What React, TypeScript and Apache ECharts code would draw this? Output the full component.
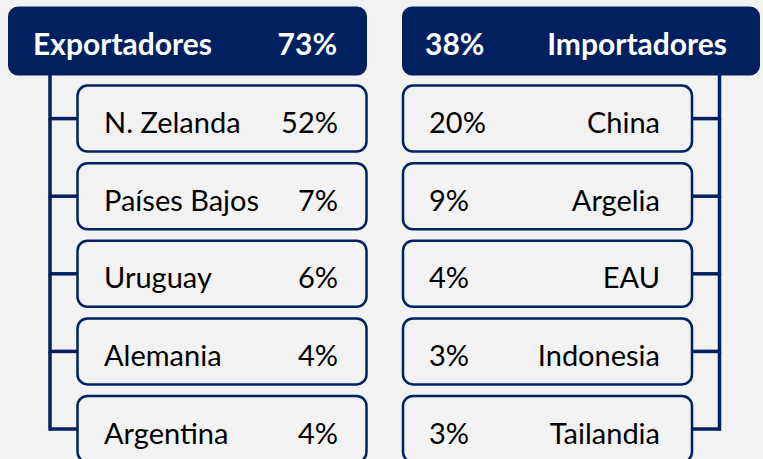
import React, { useEffect, useRef } from 'react';
import * as echarts from 'echarts';

const groupTitles = ['Exportadores', 'Importadores'];
const groupTotals = [73, 38];
const exporters = ['N. Zelanda', 'Países Bajos', 'Uruguay', 'Alemania', 'Argentina'];
const exporterShares = [52, 7, 6, 4, 4];
const importers = ['China', 'Argelia', 'EAU', 'Indonesia', 'Tailandia'];
const importerShares = [20, 9, 4, 3, 3];
const rankLabels = ['Total', '1', '2', '3', '4', '5'];

const NAVY = '#002060';
const BG = '#f2f2f2';
const FONT = 'Lato, "Open Sans", sans-serif';
const BODY_SIZE = 29;
const HEAD_SIZE = 30;

export default function App() {
  const ref = useRef<HTMLDivElement>(null);
  useEffect(() => {
    document.body.style.margin = '0';
    const chart = echarts.init(ref.current!, null, { renderer: 'svg' });

    const rowData = [
      ...exporters.map((n, i) => [0, i + 1, exporterShares[i], n]),
      ...importers.map((n, i) => [1, i + 1, importerShares[i], n]),
    ];
    const headData = groupTitles.map((t, i) => [i, 0, groupTotals[i], t]);

    const renderRow = (params: any, api: any) => {
      const col = api.value(0);
      const c = api.coord([col, api.value(1)]);
      const bh = api.size([1, 1])[1];
      const cx = c[0];
      const cy = c[1];
      const m = col === 0 ? -1 : 1;
      const item = rowData[params.dataIndex];
      const name = item[3] as string;
      const val = item[2] as number;
      const lineX = cx + m * 172;
      const boxHalf = 144.5;
      const lineStyle = { stroke: NAVY, lineWidth: 3.5, fill: 'none' };
      const nameX = m < 0 ? cx - 118 : cx + 112.5;
      const valX = m < 0 ? cx + 116 : cx - 118.5;
      return {
        type: 'group',
        children: [
          {
            type: 'line',
            shape: { x1: lineX, y1: cy - bh, x2: lineX, y2: cy + 1.75 },
            style: lineStyle,
          },
          {
            type: 'line',
            shape: { x1: lineX, y1: cy, x2: cx + m * boxHalf, y2: cy },
            style: lineStyle,
          },
          {
            type: 'rect',
            shape: { x: cx - boxHalf, y: cy - 33, width: boxHalf * 2, height: 66, r: 10 },
            style: { fill: BG, stroke: NAVY, lineWidth: 2.5 },
          },
          {
            type: 'text',
            x: nameX,
            y: cy + 3,
            style: {
              text: name,
              fill: '#000',
              font: `${BODY_SIZE}px ${FONT}`,
              align: m < 0 ? 'left' : 'right',
              verticalAlign: 'middle',
            },
          },
          {
            type: 'text',
            x: valX,
            y: cy + 3,
            style: {
              text: `${val}%`,
              fill: '#000',
              font: `${BODY_SIZE}px ${FONT}`,
              align: m < 0 ? 'right' : 'left',
              verticalAlign: 'middle',
            },
          },
        ],
      };
    };

    const renderHead = (params: any, api: any) => {
      const col = api.value(0);
      const c = api.coord([col, api.value(1)]);
      const cx = c[0];
      const cy = c[1];
      const m = col === 0 ? -1 : 1;
      const item = headData[params.dataIndex];
      const title = item[3] as string;
      const total = item[2] as number;
      const left = m < 0 ? cx - 214 : cx - 145.5;
      const right = m < 0 ? cx + 145 : cx + 212.5;
      const titleX = m < 0 ? cx - 189 : cx + 179.5;
      const totalX = m < 0 ? cx + 115 : cx - 122.5;
      return {
        type: 'group',
        children: [
          {
            type: 'rect',
            shape: { x: left, y: cy - 34.5, width: right - left, height: 69, r: 10 },
            style: { fill: NAVY },
          },
          {
            type: 'text',
            x: titleX,
            y: cy + 2,
            style: {
              text: title,
              fill: '#fff',
              font: `bold ${HEAD_SIZE}px ${FONT}`,
              align: m < 0 ? 'left' : 'right',
              verticalAlign: 'middle',
            },
          },
          {
            type: 'text',
            x: totalX,
            y: cy + 2,
            style: {
              text: `${total}%`,
              fill: '#fff',
              font: `bold ${HEAD_SIZE}px ${FONT}`,
              align: m < 0 ? 'right' : 'left',
              verticalAlign: 'middle',
            },
          },
        ],
      };
    };

    chart.setOption({
      animation: false,
      backgroundColor: BG,
      grid: { left: 59.25, width: 651, top: 41, height: 388 },
      xAxis: { type: 'category', data: groupTitles, show: false },
      yAxis: { type: 'category', data: rankLabels, inverse: true, boundaryGap: false, show: false },
      series: [
        {
          type: 'custom',
          renderItem: renderRow,
          data: rowData,
          encode: { x: 0, y: 1 },
          z: 2,
          silent: true,
          clip: false,
        },
        {
          type: 'custom',
          renderItem: renderHead,
          data: headData,
          encode: { x: 0, y: 1 },
          z: 3,
          silent: true,
          clip: false,
        },
      ],
    });
    return () => chart.dispose();
  }, []);
  return <div ref={ref} style={{ width: 763, height: 459 }} />;
}
